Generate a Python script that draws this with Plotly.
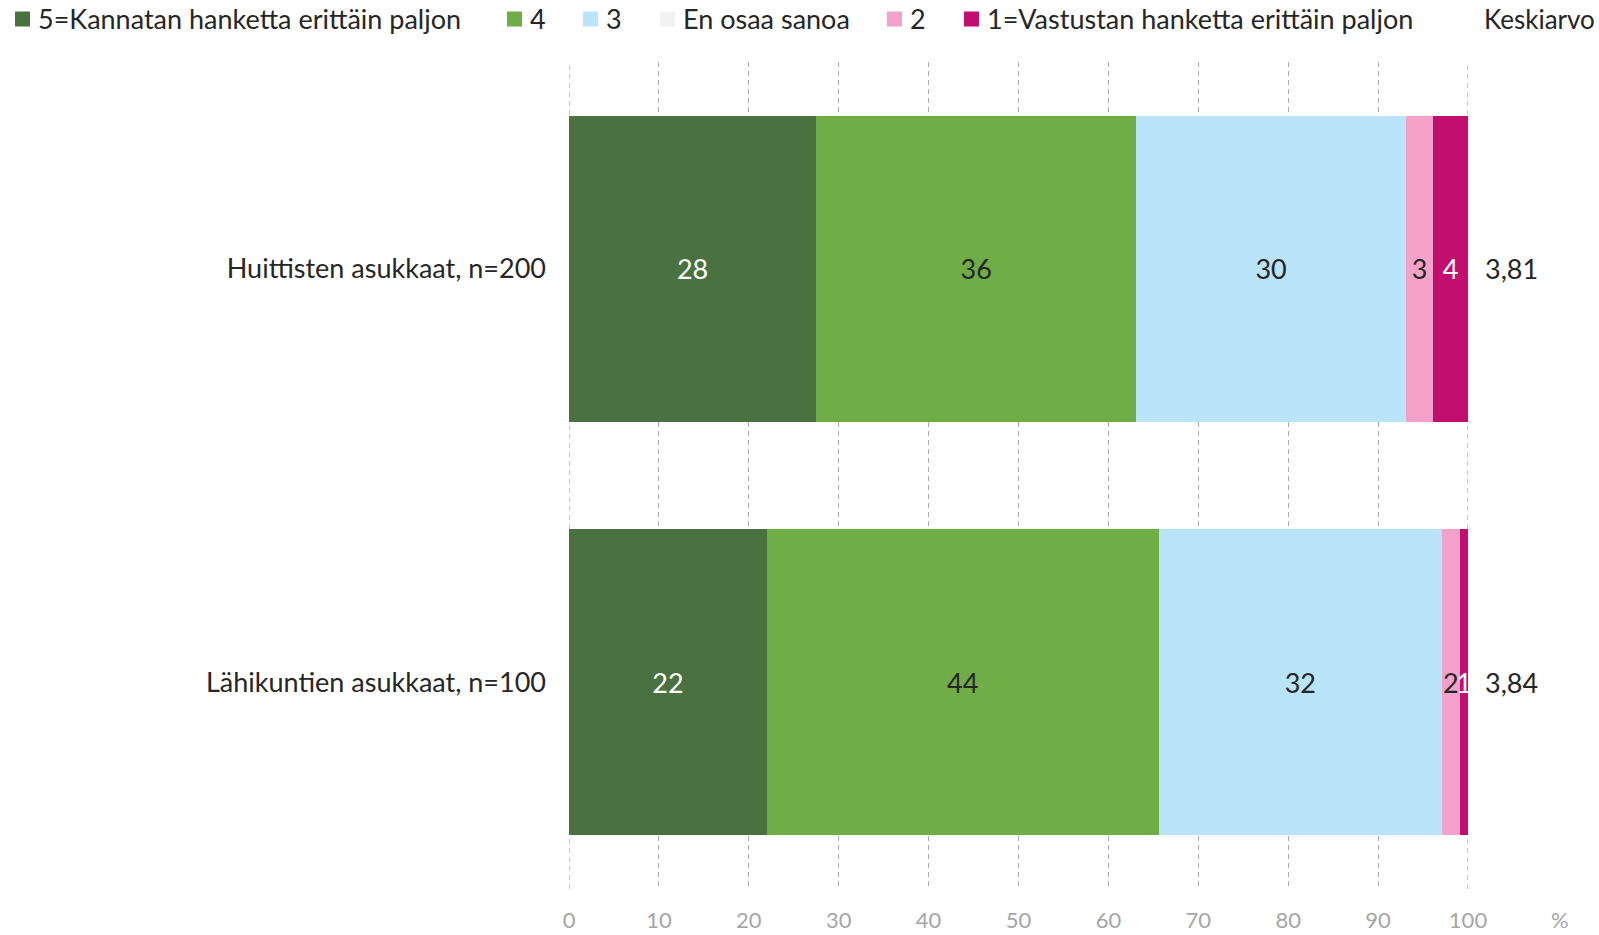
import plotly.graph_objects as go

# categories (top to bottom)
groups = ["Huittisten asukkaat, n=200", "Lähikuntien asukkaat, n=100"]

# share of answers, %
answer_labels = [
    "5=Kannatan hanketta erittäin paljon",
    "4",
    "3",
    "En osaa sanoa",
    "2",
    "1=Vastustan hanketta erittäin paljon",
]
share_5 = [27.5, 22.0]
share_4 = [35.6, 43.6]
share_3 = [30.0, 31.5]
share_eos = [0.0, 0.0]
share_2 = [3.0, 2.0]
share_1 = [3.9, 0.9]

mean_values = [3.81, 3.84]

x_ticks = [0, 10, 20, 30, 40, 50, 60, 70, 80, 90, 100]

colors = ["#4A7140", "#70AD47", "#B9E4FA", "#F2F2F2", "#F4A2CA", "#C20E6E"]
text_colors = ["white", "#262626", "#262626", "#262626", "#262626", "white"]

FONT = "Lato, Calibri, sans-serif"
GRID = "#ABABAB"
W, H = 1599, 935
L, R, T, B = 569, 131, 62, 46
PW, PH = W - L - R, H - T - B


def px_x(p):
    return (p - L) / PW


def px_y(p):
    return 1 - (p - T) / PH


fig = go.Figure()
for name, vals, col, tcol in zip(
    answer_labels,
    [share_5, share_4, share_3, share_eos, share_2, share_1],
    colors, text_colors,
):
    fig.add_trace(go.Bar(
        x=vals, y=groups, orientation="h", name=name, showlegend=False,
        marker=dict(color=col, line=dict(width=0)),
        texttemplate="%{x:.0f}" if max(vals) > 0 else "",
        textposition="inside", insidetextanchor="middle",
        textfont=dict(color=tcol, size=27, family=FONT),
    ))

# plotly skips gridlines on the plot edges, so draw the 0 and 100 lines
for v in (x_ticks[0], x_ticks[-1]):
    fig.add_shape(type="line", xref="x", yref="paper", x0=v, x1=v, y0=0, y1=1,
                  layer="below", line=dict(color=GRID, width=1.3, dash="5px,4px"))

# mean values to the right of the bars
for g, m in zip(groups, mean_values):
    fig.add_annotation(x=100, y=g, xref="x", yref="y", text=f"{m:.2f}".replace(".", ","),
                       showarrow=False, xanchor="left", xshift=15,
                       font=dict(size=27, color="#262626", family=FONT))

# legend row drawn by hand (single line, like the original)
legend_x = [15, 507, 583, 660, 887, 964]
for name, col, lx in zip(answer_labels, colors, legend_x):
    fig.add_shape(type="rect", xref="paper", yref="paper",
                  x0=px_x(lx), x1=px_x(lx + 15), y0=px_y(26.5), y1=px_y(11.5),
                  fillcolor=col, line=dict(width=0))
    fig.add_annotation(x=px_x(lx + 21), y=px_y(19), xref="paper", yref="paper",
                       text=name, showarrow=False, xanchor="left", yanchor="middle",
                       font=dict(size=27, color="#262626", family=FONT))
fig.add_annotation(x=px_x(1596), y=px_y(19), xref="paper", yref="paper", text="Keskiarvo",
                   showarrow=False, xanchor="right", yanchor="middle", borderpad=0,
                   font=dict(size=26, color="#262626", family=FONT))

fig.add_annotation(x=px_x(1560), y=px_y(919), xref="paper", yref="paper", text="%",
                   showarrow=False, xanchor="center", yanchor="middle",
                   font=dict(size=22, color="#A6A6A6", family=FONT))

fig.update_layout(
    width=W, height=H,
    barmode="stack", bargap=0.26,
    plot_bgcolor="white", paper_bgcolor="white",
    margin=dict(l=L, r=R, t=T, b=B, autoexpand=False),
    font=dict(family=FONT, size=27, color="#262626"),
    uniformtext=dict(minsize=27, mode="show"),
    showlegend=False,
    xaxis=dict(range=[0, 100], tickvals=x_ticks, showgrid=True,
               gridcolor=GRID, griddash="5px,4px", gridwidth=1.3,
               zeroline=False, showline=False, ticks="", automargin=False,
               tickfont=dict(size=22, color="#A6A6A6"), ticklabelstandoff=16),
    yaxis=dict(autorange="reversed", showgrid=False, showline=False, ticks="",
               automargin=False,
               tickfont=dict(size=27, color="#262626"), ticklabelstandoff=22),
)

fig.write_html("out.html", config={"displayModeBar": False},
               post_script="document.body.style.margin='0';document.body.style.overflow='hidden';")
